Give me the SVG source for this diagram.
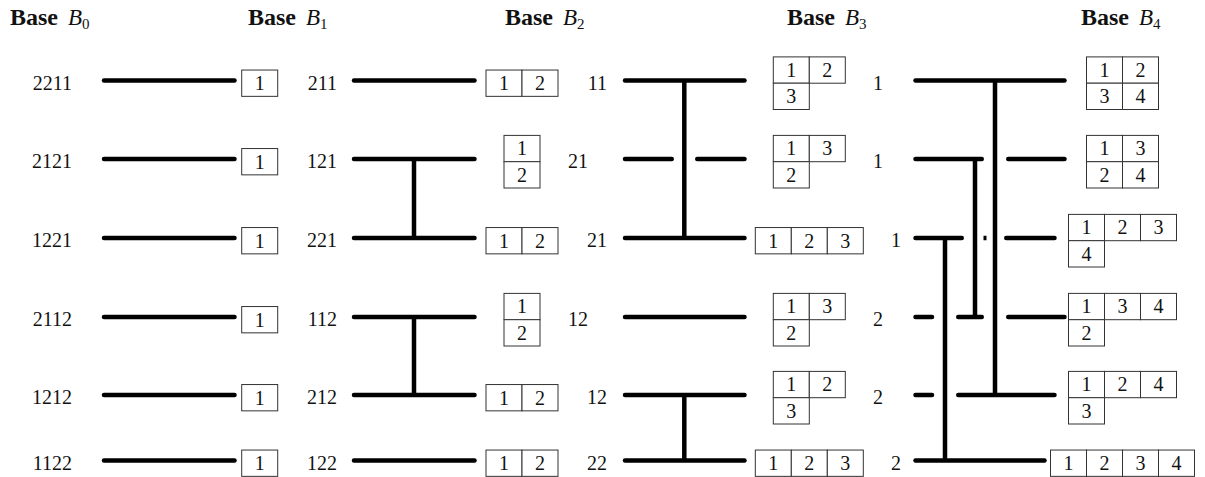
<svg xmlns="http://www.w3.org/2000/svg" width="1205" height="477" viewBox="0 0 1205 477">
<style>
.ln{stroke:#000;stroke-width:4.5;stroke-linecap:round;fill:none}
.vl{stroke:#000;stroke-width:4.5;stroke-linecap:butt;fill:none}
.c{fill:#fff;stroke:#333;stroke-width:1}
.n{font-family:"Liberation Serif",serif;font-size:20px;fill:#111;text-anchor:middle}
.lab{font-family:"Liberation Serif",serif;font-size:20px;fill:#111;text-anchor:end}
.hd{font-family:"Liberation Serif",serif;font-size:24px;fill:#111}
.hd .b{font-weight:bold}
.hd .i{font-style:italic;font-size:23px}
.hd .s{font-size:15px}
</style>
<rect width="1205" height="477" fill="#fff"/>
<g id="headers">
<text class="hd" x="10" y="25"><tspan class="b">Base</tspan><tspan class="i" x="68">B</tspan><tspan class="s" dy="4">0</tspan></text>
<text class="hd" x="248" y="25"><tspan class="b">Base</tspan><tspan class="i" x="306">B</tspan><tspan class="s" dy="4">1</tspan></text>
<text class="hd" x="505" y="25"><tspan class="b">Base</tspan><tspan class="i" x="563">B</tspan><tspan class="s" dy="4">2</tspan></text>
<text class="hd" x="787" y="25"><tspan class="b">Base</tspan><tspan class="i" x="845">B</tspan><tspan class="s" dy="4">3</tspan></text>
<text class="hd" x="1081" y="25"><tspan class="b">Base</tspan><tspan class="i" x="1139">B</tspan><tspan class="s" dy="4">4</tspan></text>
</g>
<g id="labels">
<g id="labels-b0">
<text class="lab" x="72" y="89.5">2211</text>
<text class="lab" x="72" y="168">2121</text>
<text class="lab" x="72" y="247">1221</text>
<text class="lab" x="72" y="326">2112</text>
<text class="lab" x="72" y="404">1212</text>
<text class="lab" x="72" y="469.5">1122</text>
</g>
<g id="labels-b1">
<text class="lab" x="337" y="89.5">211</text>
<text class="lab" x="337" y="168">121</text>
<text class="lab" x="337" y="247">221</text>
<text class="lab" x="337" y="326">112</text>
<text class="lab" x="337" y="404">212</text>
<text class="lab" x="337" y="469.5">122</text>
</g>
<g id="labels-b2">
<text class="lab" x="607" y="89.5">11</text>
<text class="lab" x="588" y="168">21</text>
<text class="lab" x="607" y="247">21</text>
<text class="lab" x="588" y="326">12</text>
<text class="lab" x="607" y="404">12</text>
<text class="lab" x="607" y="469.5">22</text>
</g>
<g id="labels-b3">
<text class="lab" x="883" y="89.5">1</text>
<text class="lab" x="883" y="168">1</text>
<text class="lab" x="901" y="247">1</text>
<text class="lab" x="883" y="326">2</text>
<text class="lab" x="883" y="404">2</text>
<text class="lab" x="901" y="469.5">2</text>
</g>
</g>
<g id="connectors">
<g id="lines-b0">
<line class="ln" x1="104" y1="80.5" x2="234.5" y2="80.5"/>
<line class="ln" x1="104" y1="159" x2="234.5" y2="159"/>
<line class="ln" x1="104" y1="238" x2="234.5" y2="238"/>
<line class="ln" x1="104" y1="317" x2="234.5" y2="317"/>
<line class="ln" x1="104" y1="395" x2="234.5" y2="395"/>
<line class="ln" x1="104" y1="460.5" x2="234.5" y2="460.5"/>
</g>
<g id="lines-b1">
<line class="ln" x1="354" y1="80.5" x2="474.5" y2="80.5"/>
<line class="ln" x1="354" y1="159" x2="474.5" y2="159"/>
<line class="ln" x1="354" y1="238" x2="474.5" y2="238"/>
<line class="ln" x1="354" y1="317" x2="474.5" y2="317"/>
<line class="ln" x1="354" y1="395" x2="474.5" y2="395"/>
<line class="ln" x1="354" y1="460.5" x2="474.5" y2="460.5"/>
<line class="vl" x1="414" y1="159" x2="414" y2="238"/>
<line class="vl" x1="414" y1="317" x2="414" y2="395"/>
</g>
<g id="lines-b2">
<line class="ln" x1="625" y1="80.5" x2="744.5" y2="80.5"/>
<line class="ln" x1="625" y1="159" x2="671.75" y2="159"/>
<line class="ln" x1="697.25" y1="159" x2="744.5" y2="159"/>
<line class="ln" x1="625" y1="238" x2="744.5" y2="238"/>
<line class="ln" x1="625" y1="317" x2="744.5" y2="317"/>
<line class="ln" x1="625" y1="395" x2="744.5" y2="395"/>
<line class="ln" x1="625" y1="460.5" x2="744.5" y2="460.5"/>
<line class="vl" x1="684.3" y1="80.5" x2="684.3" y2="238"/>
<line class="vl" x1="684.3" y1="395" x2="684.3" y2="460.5"/>
</g>
<g id="lines-b3">
<line class="ln" x1="915.5" y1="80.5" x2="1064.5" y2="80.5"/>
<line class="ln" x1="915.5" y1="159" x2="981.75" y2="159"/>
<line class="ln" x1="1008.25" y1="159" x2="1064.5" y2="159"/>
<line class="ln" x1="915.5" y1="238" x2="961.75" y2="238"/>
<rect x="983.5" y="235.75" width="3" height="4.5" fill="#000"/>
<line class="ln" x1="1006.25" y1="238" x2="1054.5" y2="238"/>
<line class="ln" x1="915.5" y1="317" x2="932" y2="317"/>
<line class="ln" x1="958.25" y1="317" x2="981.75" y2="317"/>
<line class="ln" x1="1008.25" y1="317" x2="1064.5" y2="317"/>
<line class="ln" x1="915.5" y1="395" x2="932" y2="395"/>
<line class="ln" x1="958.25" y1="395" x2="1054.5" y2="395"/>
<line class="ln" x1="915.5" y1="460.5" x2="1044.5" y2="460.5"/>
<line class="vl" x1="995" y1="80.5" x2="995" y2="395"/>
<line class="vl" x1="975" y1="159" x2="975" y2="317"/>
<line class="vl" x1="945" y1="238" x2="945" y2="460.5"/>
</g>
</g>
<g id="tableaux-b0">
<g id="t0-1"><rect class="c" x="241.7" y="70.05" width="36" height="26.3"/><text class="n" x="259.7" y="90.05">1</text></g>
<g id="t0-2"><rect class="c" x="241.7" y="148.55" width="36" height="26.3"/><text class="n" x="259.7" y="168.55">1</text></g>
<g id="t0-3"><rect class="c" x="241.7" y="227.55" width="36" height="26.3"/><text class="n" x="259.7" y="247.55">1</text></g>
<g id="t0-4"><rect class="c" x="241.7" y="306.55" width="36" height="26.3"/><text class="n" x="259.7" y="326.55">1</text></g>
<g id="t0-5"><rect class="c" x="241.7" y="384.55" width="36" height="26.3"/><text class="n" x="259.7" y="404.55">1</text></g>
<g id="t0-6"><rect class="c" x="241.7" y="450.05" width="36" height="26.3"/><text class="n" x="259.7" y="470.05">1</text></g>
</g>
<g id="tableaux-b1">
<g id="t1-1"><rect class="c" x="486" y="70.05" width="36" height="26.3"/><rect class="c" x="522" y="70.05" width="36" height="26.3"/><text class="n" x="504" y="90.05">1</text><text class="n" x="540" y="90.05">2</text></g>
<g id="t1-2"><rect class="c" x="504" y="135.4" width="36" height="26.3"/><rect class="c" x="504" y="161.7" width="36" height="26.3"/><text class="n" x="522" y="155.4">1</text><text class="n" x="522" y="181.7">2</text></g>
<g id="t1-3"><rect class="c" x="486" y="227.55" width="36" height="26.3"/><rect class="c" x="522" y="227.55" width="36" height="26.3"/><text class="n" x="504" y="247.55">1</text><text class="n" x="540" y="247.55">2</text></g>
<g id="t1-4"><rect class="c" x="504" y="293.4" width="36" height="26.3"/><rect class="c" x="504" y="319.7" width="36" height="26.3"/><text class="n" x="522" y="313.4">1</text><text class="n" x="522" y="339.7">2</text></g>
<g id="t1-5"><rect class="c" x="486" y="384.55" width="36" height="26.3"/><rect class="c" x="522" y="384.55" width="36" height="26.3"/><text class="n" x="504" y="404.55">1</text><text class="n" x="540" y="404.55">2</text></g>
<g id="t1-6"><rect class="c" x="486" y="450.05" width="36" height="26.3"/><rect class="c" x="522" y="450.05" width="36" height="26.3"/><text class="n" x="504" y="470.05">1</text><text class="n" x="540" y="470.05">2</text></g>
</g>
<g id="tableaux-b2">
<g id="t2-1"><rect class="c" x="773.3" y="56.9" width="36" height="26.3"/><rect class="c" x="809.3" y="56.9" width="36" height="26.3"/><rect class="c" x="773.3" y="83.2" width="36" height="26.3"/><text class="n" x="791.3" y="76.9">1</text><text class="n" x="827.3" y="76.9">2</text><text class="n" x="791.3" y="103.2">3</text></g>
<g id="t2-2"><rect class="c" x="773.3" y="135.4" width="36" height="26.3"/><rect class="c" x="809.3" y="135.4" width="36" height="26.3"/><rect class="c" x="773.3" y="161.7" width="36" height="26.3"/><text class="n" x="791.3" y="155.4">1</text><text class="n" x="827.3" y="155.4">3</text><text class="n" x="791.3" y="181.7">2</text></g>
<g id="t2-3"><rect class="c" x="755.3" y="227.55" width="36" height="26.3"/><rect class="c" x="791.3" y="227.55" width="36" height="26.3"/><rect class="c" x="827.3" y="227.55" width="36" height="26.3"/><text class="n" x="773.3" y="247.55">1</text><text class="n" x="809.3" y="247.55">2</text><text class="n" x="845.3" y="247.55">3</text></g>
<g id="t2-4"><rect class="c" x="773.3" y="293.4" width="36" height="26.3"/><rect class="c" x="809.3" y="293.4" width="36" height="26.3"/><rect class="c" x="773.3" y="319.7" width="36" height="26.3"/><text class="n" x="791.3" y="313.4">1</text><text class="n" x="827.3" y="313.4">3</text><text class="n" x="791.3" y="339.7">2</text></g>
<g id="t2-5"><rect class="c" x="773.3" y="371.4" width="36" height="26.3"/><rect class="c" x="809.3" y="371.4" width="36" height="26.3"/><rect class="c" x="773.3" y="397.7" width="36" height="26.3"/><text class="n" x="791.3" y="391.4">1</text><text class="n" x="827.3" y="391.4">2</text><text class="n" x="791.3" y="417.7">3</text></g>
<g id="t2-6"><rect class="c" x="755.3" y="450.05" width="36" height="26.3"/><rect class="c" x="791.3" y="450.05" width="36" height="26.3"/><rect class="c" x="827.3" y="450.05" width="36" height="26.3"/><text class="n" x="773.3" y="470.05">1</text><text class="n" x="809.3" y="470.05">2</text><text class="n" x="845.3" y="470.05">3</text></g>
</g>
<g id="tableaux-b3">
<g id="t3-1"><rect class="c" x="1086.5" y="56.9" width="36" height="26.3"/><rect class="c" x="1122.5" y="56.9" width="36" height="26.3"/><rect class="c" x="1086.5" y="83.2" width="36" height="26.3"/><rect class="c" x="1122.5" y="83.2" width="36" height="26.3"/><text class="n" x="1104.5" y="76.9">1</text><text class="n" x="1140.5" y="76.9">2</text><text class="n" x="1104.5" y="103.2">3</text><text class="n" x="1140.5" y="103.2">4</text></g>
<g id="t3-2"><rect class="c" x="1086.5" y="135.4" width="36" height="26.3"/><rect class="c" x="1122.5" y="135.4" width="36" height="26.3"/><rect class="c" x="1086.5" y="161.7" width="36" height="26.3"/><rect class="c" x="1122.5" y="161.7" width="36" height="26.3"/><text class="n" x="1104.5" y="155.4">1</text><text class="n" x="1140.5" y="155.4">3</text><text class="n" x="1104.5" y="181.7">2</text><text class="n" x="1140.5" y="181.7">4</text></g>
<g id="t3-3"><rect class="c" x="1068.5" y="214.4" width="36" height="26.3"/><rect class="c" x="1104.5" y="214.4" width="36" height="26.3"/><rect class="c" x="1140.5" y="214.4" width="36" height="26.3"/><rect class="c" x="1068.5" y="240.7" width="36" height="26.3"/><text class="n" x="1086.5" y="234.4">1</text><text class="n" x="1122.5" y="234.4">2</text><text class="n" x="1158.5" y="234.4">3</text><text class="n" x="1086.5" y="260.7">4</text></g>
<g id="t3-4"><rect class="c" x="1068.5" y="293.4" width="36" height="26.3"/><rect class="c" x="1104.5" y="293.4" width="36" height="26.3"/><rect class="c" x="1140.5" y="293.4" width="36" height="26.3"/><rect class="c" x="1068.5" y="319.7" width="36" height="26.3"/><text class="n" x="1086.5" y="313.4">1</text><text class="n" x="1122.5" y="313.4">3</text><text class="n" x="1158.5" y="313.4">4</text><text class="n" x="1086.5" y="339.7">2</text></g>
<g id="t3-5"><rect class="c" x="1068.5" y="371.4" width="36" height="26.3"/><rect class="c" x="1104.5" y="371.4" width="36" height="26.3"/><rect class="c" x="1140.5" y="371.4" width="36" height="26.3"/><rect class="c" x="1068.5" y="397.7" width="36" height="26.3"/><text class="n" x="1086.5" y="391.4">1</text><text class="n" x="1122.5" y="391.4">2</text><text class="n" x="1158.5" y="391.4">4</text><text class="n" x="1086.5" y="417.7">3</text></g>
<g id="t3-6"><rect class="c" x="1050.5" y="450.05" width="36" height="26.3"/><rect class="c" x="1086.5" y="450.05" width="36" height="26.3"/><rect class="c" x="1122.5" y="450.05" width="36" height="26.3"/><rect class="c" x="1158.5" y="450.05" width="36" height="26.3"/><text class="n" x="1068.5" y="470.05">1</text><text class="n" x="1104.5" y="470.05">2</text><text class="n" x="1140.5" y="470.05">3</text><text class="n" x="1176.5" y="470.05">4</text></g>
</g>
</svg>
